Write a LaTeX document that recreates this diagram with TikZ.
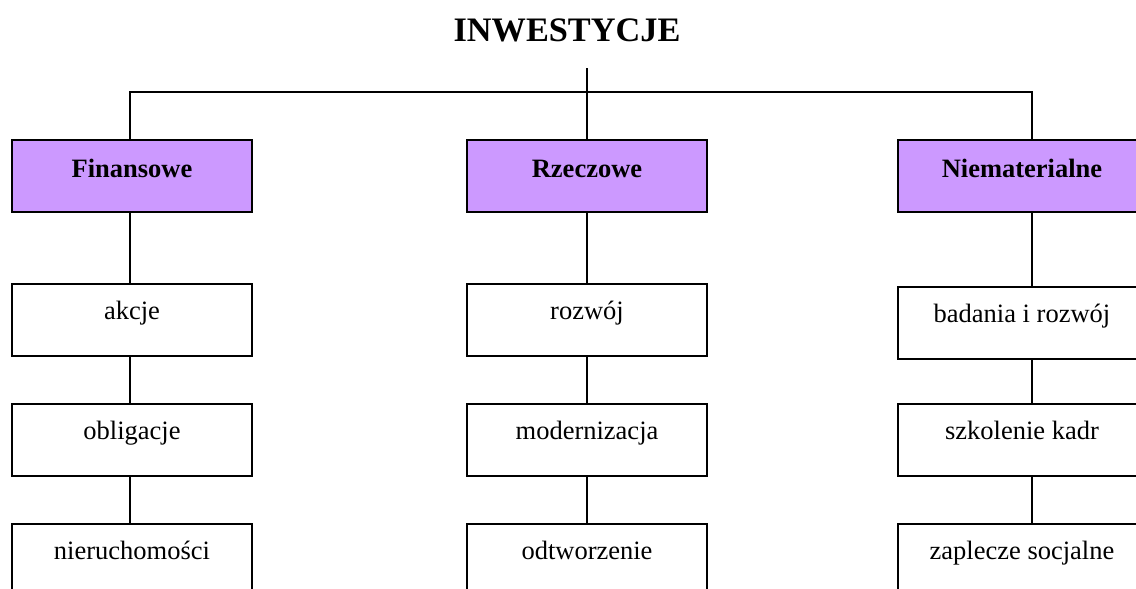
\documentclass[tikz,border=0pt]{standalone}
\usepackage{fontspec}
\setmainfont{Liberation Serif}
\definecolor{lilac}{HTML}{CC99FF}
\begin{document}
\begin{tikzpicture}[x=1pt,y=-1pt,
  box/.style={draw=black, line width=1.5pt, minimum width=240pt, minimum height=72pt,
              inner sep=0pt, outer sep=0pt},
  wide/.style={minimum width=248pt},
  head/.style={box, fill=lilac},
  link/.style={draw=black, line width=1.3pt},
  txt/.style={font=\fontsize{26.5}{30}\selectfont},
  btxt/.style={font=\fontsize{26.5}{30}\selectfont\bfseries}]
\useasboundingbox (0,0) rectangle (1136,589);
\clip (0,0) rectangle (1136,589);

% title and its stem
\node[anchor=base, font=\fontsize{34.3}{40}\selectfont\bfseries] (title) at (567,41) {INWESTYCJE};
\coordinate (stem) at (587,68);
\coordinate (bar) at (587,92);

% category boxes
\node[head, label={[btxt, anchor=base, yshift=-37pt]north:Finansowe}] (fin) at (132,176) {};
\node[head, label={[btxt, anchor=base, yshift=-37pt]north:Rzeczowe}] (rze) at (587,176) {};
\node[head, wide, label={[btxt, anchor=base, yshift=-37pt]north:Niematerialne}] (nie) at (1022,176) {};

% financial
\node[box, label={[txt, anchor=base, yshift=-35pt]north:akcje}] (akc) at (132,320) {};
\node[box, label={[txt, anchor=base, yshift=-35pt]north:obligacje}] (obl) at (132,440) {};
\node[box, label={[txt, anchor=base, yshift=-35pt]north:nieruchomości}] (nier) at (132,560) {};

% tangible
\node[box, label={[txt, anchor=base, yshift=-35pt]north:rozwój}] (roz) at (587,320) {};
\node[box, label={[txt, anchor=base, yshift=-35pt]north:modernizacja}] (mod) at (587,440) {};
\node[box, label={[txt, anchor=base, yshift=-35pt]north:odtworzenie}] (odt) at (587,560) {};

% intangible
\node[box, wide, label={[txt, anchor=base, yshift=-35pt]north:badania i rozwój}] (bad) at (1022,323) {};
\node[box, wide, label={[txt, anchor=base, yshift=-35pt]north:szkolenie kadr}] (szk) at (1022,440) {};
\node[box, wide, label={[txt, anchor=base, yshift=-35pt]north:zaplecze socjalne}] (zap) at (1022,560) {};

% tree connectors
\draw[link] (stem) -- (rze.north);
\draw[link] ([xshift=-2pt]fin.north) |- (bar) -| ([xshift=10pt]nie.north);

\draw[link] ([xshift=-2pt]fin.south) -- ([xshift=-2pt]akc.north);
\draw[link] ([xshift=-2pt]akc.south) -- ([xshift=-2pt]obl.north);
\draw[link] ([xshift=-2pt]obl.south) -- ([xshift=-2pt]nier.north);

\draw[link] (rze.south) -- (roz.north);
\draw[link] (roz.south) -- (mod.north);
\draw[link] (mod.south) -- (odt.north);

\draw[link] ([xshift=10pt]nie.south) -- ([xshift=10pt]bad.north);
\draw[link] ([xshift=10pt]bad.south) -- ([xshift=10pt]szk.north);
\draw[link] ([xshift=10pt]szk.south) -- ([xshift=10pt]zap.north);
\end{tikzpicture}
\end{document}
